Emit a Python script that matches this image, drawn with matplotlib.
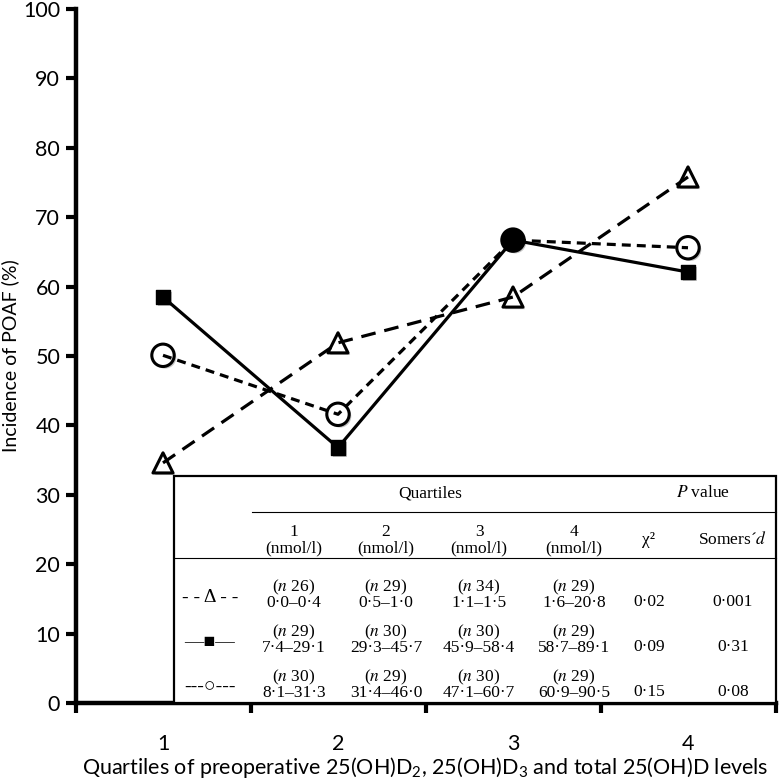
import numpy as np
import matplotlib
matplotlib.use('Agg')
import matplotlib.pyplot as plt
import matplotlib.patheffects as pe
from matplotlib.patches import Rectangle
from matplotlib.lines import Line2D

# dados
quartis = [1, 2, 3, 4]
poaf_d2 = [34.6, 51.9, 58.5, 75.8]
poaf_d3 = [58.5, 36.8, 66.7, 62.1]
poaf_total = [50.1, 41.6, 66.7, 65.6]

# tabela
n_d2 = [26, 29, 34, 29]
n_d3 = [29, 30, 30, 29]
n_total = [30, 29, 30, 29]
faixa_d2 = ['0·0–0·4', '0·5–1·0', '1·1–1·5', '1·6–20·8']
faixa_d3 = ['7·4–29·1', '29·3–45·7', '45·9–58·4', '58·7–89·1']
faixa_total = ['8·1–31·3', '31·4–46·0', '47·1–60·7', '60·9–90·5']
chi2 = ['0·02', '0·09', '0·15']
somers = ['0·001', '0·31', '0·08']
simbolos = ['- - Δ - -', '—■—', '---○---']

plt.rcParams['font.family'] = ['Lato', 'DejaVu Sans']
plt.rcParams['mathtext.fontset'] = 'custom'
plt.rcParams['mathtext.rm'] = 'Lato'

W, H = 780, 784
fig = plt.figure(figsize=(7.8, 7.84), dpi=100)
ax = fig.add_axes([75.5 / W, 1 - 703 / H, 700 / W, 694 / H])

def px(x, y):
    return x / W, 1 - y / H

sombra = [pe.SimplePatchShadow(offset=(1.5, -1.5), shadow_rgbFace='0.55', alpha=0.5), pe.Normal()]

# linhas
ax.plot(quartis, poaf_d2, color='black', lw=2.3, dashes=(4.6, 2.8), zorder=4)
ax.plot(quartis, poaf_d3, color='black', lw=2.3, zorder=4)
ax.plot(quartis, poaf_total, color='black', lw=2.3, dashes=(2.8, 1.9), zorder=4)

# marcadores
ax.scatter(quartis, poaf_d2, marker='^', s=210, facecolors='white', edgecolors='black',
           linewidths=2.2, zorder=3, path_effects=sombra)
ax.scatter(quartis, poaf_d3, marker='s', s=110, facecolors='black', edgecolors='black',
           linewidths=1, zorder=3, path_effects=sombra)
cores_total = ['white', 'white', 'black', 'white']
ax.scatter(quartis, poaf_total, marker='o', s=260, facecolors=cores_total, edgecolors='black',
           linewidths=2.2, zorder=3, path_effects=sombra)

ax.set_xlim(0.5, 4.5)
ax.set_ylim(0, 100)
ax.set_yticks(np.arange(0, 101, 10))
ax.set_xticks([0.5, 1.5, 2.5, 3.5, 4.5])
ax.set_xticklabels([])
ax.set_xticks(quartis, minor=True)
ax.set_xticklabels([str(q) for q in quartis], minor=True)
ax.tick_params(axis='x', which='minor', length=0, pad=22, labelsize=15.5)
ax.tick_params(axis='x', which='major', length=7, width=3, direction='out')
ax.tick_params(axis='y', length=7, width=3, direction='out', labelsize=15.5, pad=4)
for lado in ['top', 'right']:
    ax.spines[lado].set_visible(False)
for lado in ['left', 'bottom']:
    ax.spines[lado].set_linewidth(3.2)
    ax.spines[lado].set_zorder(10)

ax.set_ylabel('Incidence of POAF (%)', fontsize=14, labelpad=3)
fig.text(425 / W, 1 - 768 / H, 'Quartiles of preoperative 25(OH)D$_2$, 25(OH)D$_3$ and total 25(OH)D levels',
         ha='center', va='center', fontsize=15.5)

# tabela
x0, y0, x1, y1 = 174, 476, 776, 703
fig.patches.append(Rectangle(px(x0, y1), (x1 - x0) / W, (y1 - y0) / H, transform=fig.transFigure,
                             facecolor='white', edgecolor='black', lw=1.6, zorder=5))
fig.lines.append(Line2D([252 / W, x1 / W], [1 - 512 / H] * 2, transform=fig.transFigure,
                        color='black', lw=0.8, zorder=6))
fig.lines.append(Line2D([x0 / W, x1 / W], [1 - 558 / H] * 2, transform=fig.transFigure,
                        color='black', lw=0.8, zorder=6))

serif = dict(family=['Liberation Serif', 'DejaVu Serif'], math_fontfamily='stix',
             fontsize=12.5, ha='center', va='center', zorder=7)
col_x = [294, 386, 479, 574]
chi_x, som_x = 649, 733

fig.text(*px(430, 493), 'Quartiles', **serif)
fig.text(*px(703, 493), '$P$ value', **serif)
for i, cx in enumerate(col_x):
    fig.text(*px(cx, 532), str(i + 1), **serif)
    fig.text(*px(cx, 548), '(nmol/l)', **serif)
fig.text(*px(chi_x, 540), 'χ²', **serif)
fig.text(*px(som_x, 540), 'Somers´$d$', **serif)

linhas_y = [587, 632, 677]
for k, (ns, faixas) in enumerate([(n_d2, faixa_d2), (n_d3, faixa_d3), (n_total, faixa_total)]):
    yy = linhas_y[k]
    for i, cx in enumerate(col_x):
        fig.text(*px(cx, yy), f'($n$ {ns[i]})', **serif)
        fig.text(*px(cx, yy + 16), faixas[i], **serif)
    fig.text(*px(chi_x, yy + 15), chi2[k], **serif)
    fig.text(*px(som_x, yy + 15), somers[k], **serif)
    fig.text(*px(210, yy + 10), simbolos[k], **dict(serif, fontsize=14))

fig.savefig('out.png', dpi=100)
